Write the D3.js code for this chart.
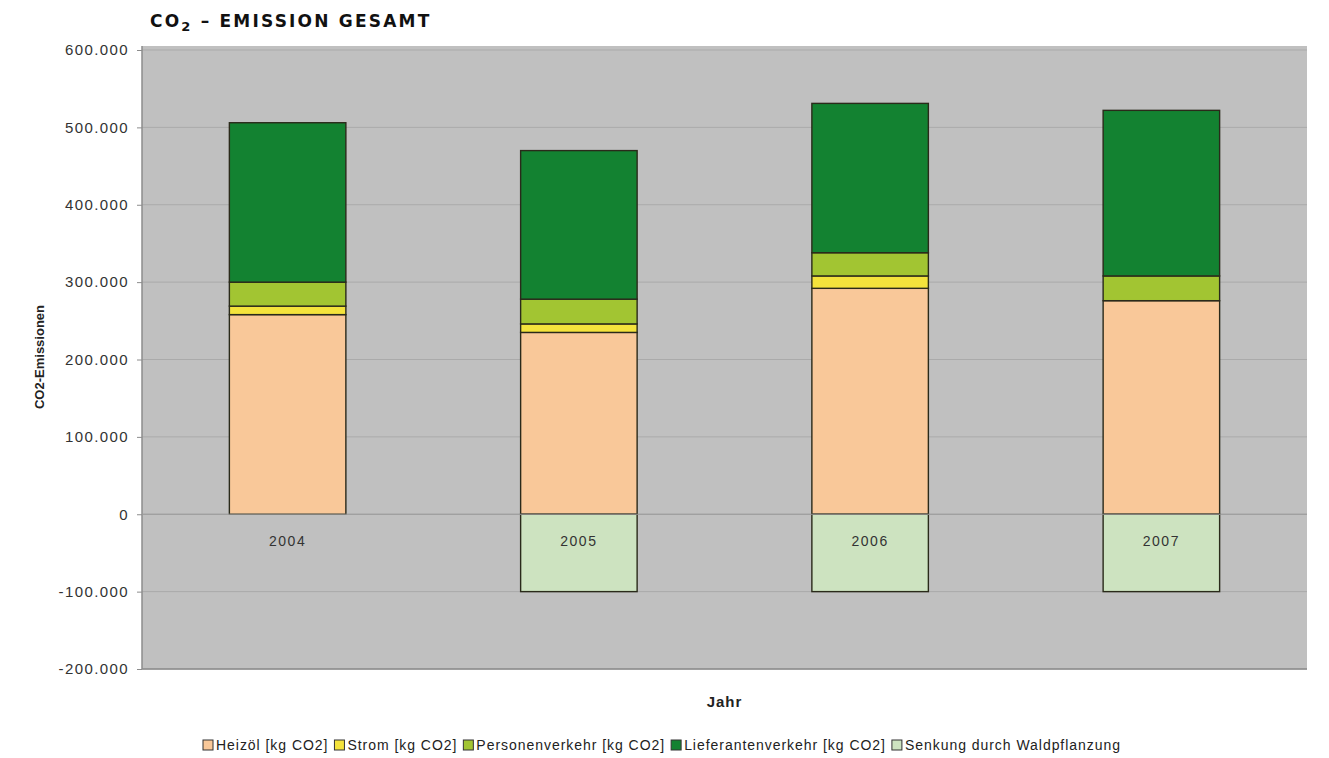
<!DOCTYPE html>
<html>
<head>
<meta charset="utf-8">
<script src="https://cdn.jsdelivr.net/npm/d3@7"></script>
<style>
  body { margin: 0; background: #fff; }
  svg { display: block; }
</style>
</head>
<body>
<svg id="chart" width="1329" height="758"></svg>
<script>
// CO2 emissions per year, stacked
const years = ["2004", "2005", "2006", "2007"];
const heizoel = [258000, 235000, 292000, 276000];
const strom = [11000, 11000, 16000, 0];
const personen = [31000, 32000, 30000, 32000];
const lieferanten = [206000, 192000, 193000, 214000];
const senkung = [0, -100000, -100000, -100000];
const yTicks = [-200000, -100000, 0, 100000, 200000, 300000, 400000, 500000, 600000];

const seriesNames = ["Heizöl [kg CO2]", "Strom [kg CO2]", "Personenverkehr [kg CO2]", "Lieferantenverkehr [kg CO2]", "Senkung durch Waldpflanzung"];
const colors = ["#f9c899", "#f4e33c", "#a2c532", "#138231", "#cde3c0"];

const font = "Liberation Sans, Arial, sans-serif";

const margin = { top: 50, right: 22, bottom: 89, left: 142 },
    width = 1329 - margin.left - margin.right,
    height = 758 - margin.top - margin.bottom;

let svg = d3.select("#chart"),
    g = svg.append("g").attr("transform", "translate(" + margin.left + "," + margin.top + ")");

let rows = years.map((y, i) => ({
    year: y,
    heizoel: heizoel[i], strom: strom[i], personen: personen[i],
    lieferanten: lieferanten[i], senkung: senkung[i]
}));
const keys = ["heizoel", "strom", "personen", "lieferanten", "senkung"];

let x = d3.scaleBand().domain(years).range([0, width]).padding(0);
let y = d3.scaleLinear().domain([-200000, 600000]).range([height, 0]);

// german number format: 500.000, plain hyphen for minus
let de = d3.formatLocale({ decimal: ",", thousands: ".", grouping: [3], currency: ["", " €"], minus: "-" });
let fmt = de.format(",");

// plot background
g.append("rect")
    .attr("y", -4)
    .attr("width", width).attr("height", height + 4)
    .attr("fill", "#c0c0c0");

// gridlines
g.append("g").selectAll("line")
    .data(yTicks)
    .enter().append("line")
    .attr("x1", 0).attr("x2", width)
    .attr("y1", d => y(d)).attr("y2", d => y(d))
    .attr("stroke", "#aaaaaa").attr("stroke-width", 1);

// plot border left/bottom
g.append("line").attr("x1", 0).attr("x2", 0).attr("y1", -4).attr("y2", height)
    .attr("stroke", "#8c8c8c").attr("stroke-width", 1.5);
g.append("line").attr("x1", 0).attr("x2", width).attr("y1", height).attr("y2", height)
    .attr("stroke", "#8c8c8c").attr("stroke-width", 1.5);

let stack = d3.stack().keys(keys).offset(d3.stackOffsetDiverging);
let stacked = stack(rows);

let barW = x.bandwidth() * 0.4;
let barOff = (x.bandwidth() - barW) / 2;

g.append("g").selectAll("g")
    .data(stacked)
    .enter().append("g")
    .attr("fill", (d, i) => colors[i])
    .selectAll("rect")
    .data(d => d.filter(s => s[1] - s[0] !== 0))
    .enter().append("rect")
    .attr("x", d => x(d.data.year) + barOff)
    .attr("y", d => y(d[1]))
    .attr("width", barW)
    .attr("height", d => y(d[0]) - y(d[1]))
    .attr("stroke", "#2a2a1a")
    .attr("stroke-width", 1.4);

// zero line
g.append("line").attr("x1", 0).attr("x2", width).attr("y1", y(0)).attr("y2", y(0))
    .attr("stroke", "#9a9a9a").attr("stroke-width", 1);

// y axis
let yAxis = g.append("g")
    .call(d3.axisLeft(y).tickValues(yTicks).tickSize(5).tickPadding(8).tickFormat(fmt));
yAxis.select(".domain").remove();
yAxis.selectAll("line").attr("stroke", "#8c8c8c");
yAxis.selectAll("text")
    .attr("font-family", font)
    .attr("font-size", 15).attr("letter-spacing", 1.4).attr("fill", "#333");

// category labels at zero line
g.append("g").selectAll("text")
    .data(years)
    .enter().append("text")
    .attr("x", d => x(d) + x.bandwidth() / 2)
    .attr("y", y(0) + 32)
    .attr("text-anchor", "middle")
    .attr("font-family", font)
    .attr("font-size", 14).attr("letter-spacing", 1.5).attr("fill", "#333")
    .text(d => d);

// axis titles
svg.append("text")
    .attr("transform", "translate(44," + 357 + ") rotate(-90)")
    .attr("text-anchor", "middle")
    .attr("font-family", font)
    .attr("font-size", 13).attr("font-weight", "bold").attr("fill", "#222")
    .text("CO2-Emissionen");

svg.append("text")
    .attr("x", margin.left + width / 2)
    .attr("y", 707)
    .attr("text-anchor", "middle")
    .attr("font-family", font)
    .attr("font-size", 15).attr("font-weight", "bold").attr("letter-spacing", 1).attr("fill", "#222")
    .text("Jahr");

// title
let title = svg.append("text")
    .attr("x", 150).attr("y", 27)
    .attr("font-family", "DejaVu Sans, sans-serif")
    .attr("font-size", 17).attr("font-weight", "bold").attr("fill", "#111")
    .attr("letter-spacing", 2.2);
title.append("tspan").text("CO");
title.append("tspan").attr("font-size", 13).attr("dy", 4).text("2");
title.append("tspan").attr("dy", -4).text(" – EMISSION GESAMT");

// legend, spread to the width of the original
let legend = svg.append("g").attr("transform", "translate(203,750)");
const legendWidth = 924;
let items = seriesNames.map((name, i) => {
    let item = legend.append("g");
    item.append("rect")
        .attr("x", 0).attr("y", -10).attr("width", 10).attr("height", 10)
        .attr("fill", colors[i]).attr("stroke", "#333").attr("stroke-width", 1);
    let t = item.append("text")
        .attr("x", 13).attr("y", 0)
        .attr("font-family", font)
        .attr("font-size", 14).attr("fill", "#222")
        .text(name);
    return { item, t, name };
});
let natural = d3.sum(items, d => 13 + d.t.node().getComputedTextLength() + 6);
let chars = d3.sum(items, d => d.name.length);
let ls = Math.max(0, (legendWidth - natural) / chars);
let lx = 0;
items.forEach(d => {
    d.t.attr("letter-spacing", ls);
    d.item.attr("transform", "translate(" + lx + ",0)");
    lx += 13 + d.t.node().getComputedTextLength() + 6;
});
</script>
</body>
</html>
